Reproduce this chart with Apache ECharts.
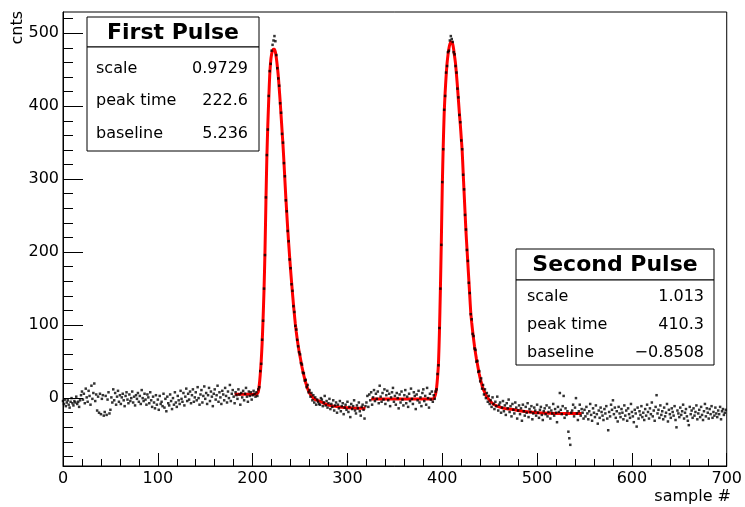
<!DOCTYPE html>
<html><head><meta charset="utf-8">
<script src="https://cdn.jsdelivr.net/npm/echarts@6.0.0/dist/echarts.min.js"></script>
<style>html,body{margin:0;padding:0;background:#fff}#c{width:745px;height:507px}</style>
</head><body><div id="c"></div>
<script>
// ---------- tick labels ----------
const xTicks = [0, 100, 200, 300, 400, 500, 600, 700];
const yTicks = [0, 100, 200, 300, 400, 500];
const yMinorTicks = [-80, -60, -40, -20, 20, 40, 60, 80, 120, 140, 160, 180, 220, 240, 260, 280, 320, 340, 360, 380, 420, 440, 460, 480, 520];

// ---------- samples (cnts), each segment starts at the given sample # ----------
const baseStart = 0;
const baseCnts = [
  -4, -8, -2, -11, -6, -3, -9, -13, -5, 0, -7, -10, -4, -6, 2, -8, -5, -12, -3, 4,
  9, -2, 6, -7, 13, 1, -5, 10, 3, -9, 17, -1, 7, 20, -4, 5, -17, 2, -20, 6,
  -22, -1, 4, -24, -19, 3, -23, -2, 8, -21, -16, 1, -6, 12, -3, 7, -9, 2, 10, -5,
  4, -8, 1, 6, -3, -11, 3, 8, -2, -7, 5, -4, 0, 9, -6, 2, -10, 4, -1, 7,
  -5, 3, -8, 11, 0, -4, 6, -2, -9, 5, 1, -7, 8, -3, -12, 2, -6, -14, 4, -9,
  -2, -16, 3, -8, -5, -11, 6, -13, -1, -18, 2, -7, -10, 5, -4, -15, 0, -9, 8, -6,
  -12, 3, -3, -8, 10, -1, -5, 7, -10, 2, 13, -4, 6, -2, 9, -7, 4, 12, -5, 1,
  8, -3, 15, 0, -9, 5, 11, -6, 3, 16, -1, 7, -8, 4, 14, -4, 9, 2, -11, 6,
  12, -2, 4, 17, -5, 8, 1, -8, 10, 5, -3, 14, 3, -6, 9, 0, 18, -4, 6, 11,
  2, -7, 8, 4, -1, 12, 5, -9, 7, 1, 10, -3, 6, 14, 2, -5, 9, 3, 8, -2,
  4, 10, 6, 2
];
const pulse1Start = 204;
const pulse1Cnts = [
  8, 3, 12, 15, 37, 47, 80, 106, 150, 196, 275, 333, 368, 414, 448, 458, 476, 484, 490, 496,
  489, 470, 452, 438, 428, 404, 391, 362, 350, 322, 304, 271, 256, 229, 215, 190, 178, 156, 147, 126,
  118, 99, 94, 80, 71, 63, 60, 48, 46, 35, 34, 24, 25, 15, 18, 8, 11, 2, 7, -3,
  4, -6, 1, -9, -2, -5, -8
];
const tail1Start = 271;
const tail1Cnts = [
  -9, 0, -2, -11, -6, 3, -10, -4, -13, -7, -1, -15, -8, -12, -3, -17, -10, -6, -20, -9,
  -14, -4, -18, -11, -7, -22, -13, -9, -16, -5, -19, -12, -26, -8, -15, -11, -3, -17, -21, -10,
  -14, -6, -18, -24, -12, -9, -16, -28, -11
];
const mid2Start = 320;
const mid2Cnts = [
  -6, 3, -12, 5, -3, 8, -9, 1, 11, -4, 6, -1, 9, -7, 17, 2, -5, 7, -2, 12,
  -8, 4, 10, -3, 6, -11, 1, 8, 14, -5, 3, -9, 7, 0, -14, 5, -6, 9, -2, -10,
  4, 11, -7, 2, -12, 6, -4, 13, -1, -8, 8, 3, -15, 5, -3, 10, -6, 1, -11, 7,
  12, -4, 3, -9, 14, 0, -13, 6, -2, 9, -5
];
const pulse2Start = 391;
const pulse2Cnts = [
  4, -1, 9, 12, 33, 45, 96, 150, 210, 296, 341, 395, 414, 446, 455, 474, 476, 490, 496, 492,
  488, 474, 471, 455, 446, 424, 412, 388, 378, 353, 341, 306, 286, 251, 231, 203, 188, 158, 144, 115,
  108, 88, 85, 68, 66, 50, 51, 36, 37, 23, 27, 13, 18, 5, 12, 0, 7, -5, 3, -8
];
const tail2Start = 451;
const tail2Cnts = [
  -3, -12, 1, -8, -15, -5, -11, 2, -17, -9, -6, -20, -13, -4, -18, -10, -23, -7, -14, -2,
  -19, -11, -25, -8, -16, -21, -6, -13, -28, -17, -10, -22, -14, -31, -9, -18, -24, -12, -20, -7,
  -26, -15, -19, -11, -29, -21, -13, -17, -24, -9, -20, -27, -16, -12, -23, -30, -18, -14, -22, -10,
  -25, -19, -13, -28, -17, -21, -8, -24, -15, -20, -33, -12, -19, 7, -16, -22, -11, 3, -27, -14,
  -23, -18, -46, -55, -64, -20, -17, -9, -25, -13, 0, -21, -30, -18, -9, -24, -15, -20, -28
];
const endStart = 550;
const endCnts = [
  -16, -25, -12, -21, -29, -18, -8, -23, -31, -14, -20, -26, -10, -22, -35, -17, -27, -13, -19, -24,
  -30, -15, -21, -11, -28, -44, -19, -25, -9, -16, -3, -22, -13, -27, -18, -32, -12, -21, -26, -15,
  -20, -29, -10, -24, -17, -31, -14, -22, -27, -8, -19, -25, -33, -16, -21, -39, -13, -28, -18, -23,
  -11, -26, -20, -30, -15, -24, -9, -19, -28, -14, -22, -6, -25, -17, -31, -12, 4, -21, -16, -27,
  -10, -23, -18, -29, -13, -25, -20, -8, -32, -16, -22, -27, -14, -19, -24, -11, -30, -40, -17, -21,
  -26, -13, -23, -18, -9, -28, -20, -15, -25, -31, -37, -12, -22, -17, -27, -14, -24, -19, -10, -29,
  -21, -16, -26, -12, -23, -30, -18, -8, -25, -14, -20, -28, -15, -22, -11, -27, -19, -24, -13, -21,
  -26, -17, -22, -12, -29, -18, -15, -23, -20, -16
];

// ---------- fitted curves ----------
const fit1X = [181, 203, 204, 205, 206, 207, 208, 209, 210, 211, 212, 213, 214, 215, 216, 217, 218, 219, 220, 221, 222, 223, 224, 225, 226, 227, 228, 229, 230, 231, 232, 233, 234, 235, 236, 237, 238, 239, 240, 241, 242, 243, 244, 245, 246, 247, 248, 249, 250, 251, 252, 253, 254, 255, 256, 257, 258, 259, 260, 262, 264, 266, 269, 272, 276, 280, 285, 290, 297, 305, 319];
const fit1Y = [5.2, 5.2, 5.5, 6.5, 9, 18, 32, 50, 75, 108, 148, 200, 268, 330, 374, 410, 442, 461, 471, 476, 478, 478, 474, 466, 455, 442, 425, 407, 387, 367, 347, 324, 299, 275, 253, 232, 212, 194, 176, 160, 144, 129, 115, 102, 91, 81, 72, 64, 57, 50, 43, 37, 31, 26, 21, 17, 13, 10, 7, 3, 0, -2, -3.5, -5, -7.5, -9.5, -11, -12, -13, -13.5, -14];
const fit2X = [325, 390, 391, 392, 393, 394, 395, 396, 397, 398, 399, 400, 401, 402, 403, 404, 405, 406, 407, 408, 409, 410, 411, 412, 413, 414, 415, 416, 417, 418, 419, 420, 421, 422, 423, 424, 425, 426, 427, 428, 429, 430, 431, 432, 433, 434, 435, 436, 437, 438, 439, 440, 441, 442, 443, 444, 445, 446, 447, 448, 450, 452, 455, 460, 465, 470, 476, 485, 495, 505, 520, 547];
const fit2Y = [-1.2, -1.2, -0.5, 2, 6, 14, 28, 48, 90, 148, 215, 290, 345, 390, 418, 440, 458, 470, 479, 485, 488, 488, 485, 478, 468, 458, 443, 427, 409, 391, 375, 357, 338, 310, 282, 255, 228, 206, 184, 162, 140, 118, 104, 92, 81, 71, 62, 54, 47, 40, 33, 27, 22, 17, 13, 10, 7, 4, 2, 0, -3, -6, -9, -12, -14, -15, -16, -18, -19.5, -20.5, -21, -21];

// ---------- stat boxes ----------
const statLabels = ['scale', 'peak time', 'baseline'];
const box1Title = 'First Pulse';
const box1Values = ['0.9729', '222.6', '5.236'];
const box2Title = 'Second Pulse';
const box2Values = ['1.013', '410.3', '\u22120.8508'];

// ---------- build ----------
function seg(start, arr) { return arr.map((v, i) => [start + i, v]); }
const points = [].concat(
  seg(baseStart, baseCnts), seg(pulse1Start, pulse1Cnts), seg(tail1Start, tail1Cnts),
  seg(mid2Start, mid2Cnts), seg(pulse2Start, pulse2Cnts), seg(tail2Start, tail2Cnts),
  seg(endStart, endCnts)
);
const fit1 = fit1X.map((x, i) => [x, fit1Y[i]]);
const fit2 = fit2X.map((x, i) => [x, fit2Y[i]]);

const FONT = '"DejaVu Sans", "Liberation Sans", sans-serif';
function statBox(x, y, w, titleH, bodyH, title, values, rowYs, padL, padR) {
  const els = [];
  els.push({ type: 'rect', z: 100, shape: { x: x, y: y, width: w, height: titleH }, style: { fill: '#fff', stroke: '#000', lineWidth: 1 } });
  els.push({ type: 'rect', z: 100, shape: { x: x, y: y + titleH, width: w, height: bodyH }, style: { fill: '#fff', stroke: '#000', lineWidth: 1 } });
  els.push({ type: 'text', z: 101, x: x + w / 2, y: y + titleH / 2 + 1, style: { text: title, fill: '#000', font: 'bold 22px ' + FONT, align: 'center', verticalAlign: 'middle', textAlign: 'center', textVerticalAlign: 'middle' } });
  statLabels.forEach((lab, i) => {
    els.push({ type: 'text', z: 101, x: x + padL, y: rowYs[i], style: { text: lab, fill: '#000', font: '16px ' + FONT, align: 'left', verticalAlign: 'middle', textAlign: 'left', textVerticalAlign: 'middle' } });
    els.push({ type: 'text', z: 101, x: x + w - padR, y: rowYs[i], style: { text: values[i], fill: '#000', font: '16px ' + FONT, align: 'right', verticalAlign: 'middle', textAlign: 'right', textVerticalAlign: 'middle' } });
  });
  return els;
}

const chart = echarts.init(document.getElementById('c'), null, { renderer: 'canvas' });
chart.setOption({
  animation: false,
  backgroundColor: '#fff',
  grid: { left: 63, right: 14, top: 12, bottom: 41, show: true, borderColor: '#000', borderWidth: 1, backgroundColor: '#fff' },
  xAxis: {
    type: 'value', min: 0, max: 700, interval: 100,
    axisLine: { onZero: false, lineStyle: { color: '#000', width: 1 } },
    axisTick: { inside: true, length: 13, lineStyle: { color: '#000' } },
    minorTick: { show: true, splitNumber: 5, length: 7, lineStyle: { color: '#000' } },
    axisLabel: { margin: 5, color: '#000', fontFamily: FONT, fontSize: 16, customValues: xTicks },
    splitLine: { show: false }
  },
  yAxis: [{
    type: 'value', min: -93, max: 529, position: 'left',
    axisLine: { show: true, onZero: false, lineStyle: { color: '#000', width: 1 } },
    axisTick: { show: true, inside: true, length: 20, lineStyle: { color: '#000' }, customValues: yTicks },
    axisLabel: { margin: 4, color: '#000', fontFamily: FONT, fontSize: 16, customValues: yTicks },
    splitLine: { show: false }
  }, {
    type: 'value', min: -93, max: 529, position: 'left', offset: 0,
    axisLine: { show: false, onZero: false },
    axisTick: { show: true, inside: true, length: 10, lineStyle: { color: '#000' }, customValues: yMinorTicks },
    axisLabel: { show: false },
    splitLine: { show: false }
  }],
  series: [
    { type: 'line', data: fit1, showSymbol: false, symbol: 'none', smooth: 0.2, z: 2, lineStyle: { color: '#ff0000', width: 3 } },
    { type: 'line', data: fit2, showSymbol: false, symbol: 'none', smooth: 0.2, z: 2, lineStyle: { color: '#ff0000', width: 3 } },
    { type: 'scatter', data: points, symbol: 'rect', symbolSize: 2.5, z: 3, itemStyle: { color: '#000' } }
  ],
  graphic: { elements: [].concat(
    statBox(87, 17, 172, 30, 104, box1Title, box1Values, [69, 101, 134], 9, 11),
    statBox(516, 249, 198, 31, 85, box2Title, box2Values, [297, 325, 353], 11, 10),
    [
      { type: 'text', z: 101, x: 18, y: 11, rotation: Math.PI / 2, style: { text: 'cnts', fill: '#000', font: '16px ' + FONT, align: 'right', verticalAlign: 'middle', textAlign: 'right', textVerticalAlign: 'middle' } },
      { type: 'text', z: 101, x: 731, y: 497, style: { text: 'sample #', fill: '#000', font: '16px ' + FONT, align: 'right', verticalAlign: 'middle', textAlign: 'right', textVerticalAlign: 'middle' } }
    ]
  ) }
});
</script>
</body></html>
